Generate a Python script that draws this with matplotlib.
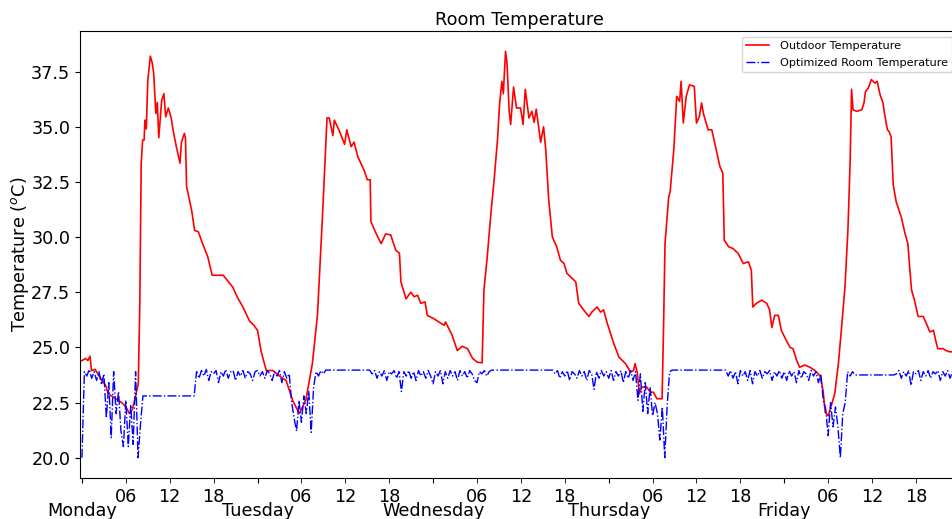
import matplotlib
matplotlib.use('Agg')
import matplotlib.pyplot as plt
import matplotlib.dates as mdates
import numpy as np
import pandas as pd

# week start (a Monday)
start = pd.Timestamp('2019-07-01 00:00')

# outdoor temperature, hours since Monday 00:00 and degC
outdoor_hours = [0.0, 0.5, 0.8, 1.1, 1.3, 1.8, 2.45, 3.2, 3.6, 4.3, 5.0, 5.6, 6.0, 6.5, 6.9, 7.2, 7.7, 7.9,
                 8.1, 8.3, 8.5, 8.6, 8.8, 9.0, 9.35, 9.6, 9.8, 10.1, 10.3, 10.5, 10.9, 11.2, 11.45, 11.8,
                 12.2, 12.45, 12.9, 13.4, 13.6, 14.0, 14.15, 14.3, 15.0, 15.4, 15.9, 16.5, 17.2, 17.8,
                 19.3, 20.6, 21.2, 22.0, 22.9, 23.5, 24.0, 24.5, 25.2, 26.1, 27.0, 27.9, 28.8, 29.7,
                 30.6, 31.5, 32.2, 32.9, 33.5, 33.8, 34.3, 34.5, 35.2, 35.9, 36.2, 36.8, 37.2, 37.7,
                 38.6, 39.0, 39.4, 39.5, 40.2, 40.9, 41.5, 42.2, 42.9, 43.4, 43.6, 44.3, 44.95, 45.4,
                 45.9, 46.3, 46.9, 47.2, 48.1, 48.8, 49.5, 49.7, 50.6, 51.3, 52.0, 52.7, 53.4, 54.05,
                 54.7, 54.95, 55.4, 55.9, 56.3, 56.8, 57.1, 57.4, 57.6, 57.9, 58.1, 58.4, 58.6, 59.0,
                 59.4, 59.95, 60.3, 60.6, 61.1, 61.5, 61.8, 62.1, 62.7, 63.1, 63.4, 63.8, 64.3, 64.9,
                 65.4, 65.9, 66.3, 67.5, 67.9, 68.8, 69.3, 69.7, 70.4, 70.9, 71.3, 71.8, 72.4, 72.7,
                 73.4, 74.3, 75.0, 75.4, 75.6, 75.9, 76.2, 76.5, 77.2, 77.7, 78.1, 78.6, 79.3, 79.5,
                 79.7, 80.2, 80.4, 80.9, 81.1, 81.3, 81.7, 81.9, 82.2, 82.6, 83.05, 83.7, 84.0, 84.4,
                 84.7, 84.95, 85.6, 86.1, 86.5, 87.2, 87.6, 87.8, 88.4, 89.0, 89.7, 90.4, 91.1, 91.5,
                 91.7, 92.2, 92.9, 93.6, 94.0, 94.3, 94.7, 95.2, 95.6, 96.3, 96.8, 97.2, 97.7, 98.1,
                 98.8, 99.5, 100.2, 100.9, 101.3, 101.6, 102.0, 102.5, 102.9, 103.4, 103.8, 104.3,
                 104.7, 105.0, 105.2, 105.4, 105.9, 106.6, 106.9, 107.1, 107.5, 107.9, 108.4, 108.7,
                 109.1, 109.5, 109.7, 110.1, 110.3, 110.6, 110.9, 111.3, 112.0, 112.5, 112.9, 113.1,
                 113.4, 113.8, 114.3, 115.0, 115.4, 115.9, 116.4, 116.8, 117.0, 117.7, 118.1, 118.6,
                 119.75]
outdoor_temp = [24.4, 24.5, 24.4, 24.6, 23.95, 24.0, 23.65, 23.3, 22.9, 22.74, 22.6, 22.45, 22.3, 22.0,
                22.2, 22.6, 23.35, 26.8, 33.35, 34.4, 34.4, 35.3, 34.9, 37.1, 38.2, 37.9, 37.45, 35.6,
                36.1, 34.5, 36.2, 36.5, 35.45, 35.85, 35.4, 34.86, 34.1, 33.35, 34.3, 34.7, 34.5, 32.3,
                31.2, 30.3, 30.24, 29.7, 29.1, 28.27, 28.27, 27.74, 27.3, 26.83, 26.2, 26.0, 25.77,
                24.8, 23.95, 23.95, 23.7, 23.5, 22.6, 22.0, 22.6, 24.27, 26.5, 31.1, 35.4, 35.4, 34.6,
                35.3, 34.8, 34.2, 34.86, 34.1, 34.3, 33.65, 33.0, 32.6, 32.6, 30.7, 30.17, 29.7, 30.14,
                30.1, 29.4, 29.27, 27.97, 27.2, 27.5, 27.3, 27.36, 27.0, 27.06, 26.45, 26.3, 26.15,
                26.0, 26.15, 25.55, 24.86, 25.05, 24.94, 24.5, 24.33, 24.3, 27.6, 29.1, 31.08, 32.44,
                34.4, 36.08, 37.06, 36.5, 38.42, 37.9, 35.7, 35.1, 36.8, 35.85, 35.85, 35.1, 36.7,
                35.4, 35.7, 35.2, 35.8, 34.3, 35.0, 33.95, 31.7, 30.0, 29.56, 28.95, 28.8, 28.35,
                27.97, 27.0, 26.6, 26.4, 26.6, 26.83, 26.6, 26.7, 26.1, 25.47, 25.17, 24.56, 24.26,
                23.88, 23.95, 24.26, 23.88, 22.9, 23.2, 23.2, 22.97, 22.97, 22.67, 22.67, 25.9, 29.7,
                31.8, 32.06, 33.95, 35.17, 36.38, 36.15, 37.06, 35.17, 36.38, 36.9, 36.83, 35.17,
                35.47, 36.08, 35.6, 34.86, 34.86, 34.26, 33.2, 32.9, 29.86, 29.56, 29.48, 29.26, 28.8,
                28.88, 28.5, 26.83, 27.0, 27.14, 27.0, 26.7, 25.9, 26.45, 26.45, 25.77, 25.3, 25.0,
                24.94, 24.4, 24.1, 24.2, 24.1, 23.95, 23.7, 23.05, 22.06, 21.9, 22.44, 22.9, 24.26,
                25.77, 27.74, 30.3, 33.35, 36.7, 35.77, 35.7, 35.77, 36.08, 36.6, 36.76, 37.14, 36.98,
                37.06, 36.45, 36.08, 35.6, 34.86, 34.8, 34.56, 32.36, 31.6, 30.9, 30.17, 29.7, 28.8,
                27.6, 27.14, 26.4, 26.4, 26.1, 25.7, 25.77, 25.17, 24.94, 24.94, 24.86, 24.8, 24.8]

# optimized room temperature, one value every 20 minutes, per day
room_mon = [20.0, 23.9, 23.7, 24.0, 23.6, 23.9, 23.5, 23.9, 23.3, 23.8, 21.8, 23.4, 20.9, 23.9, 22.0,
            23.0, 21.2, 20.5, 22.6, 20.5, 22.4, 20.6, 23.9, 20.0, 21.5, 22.8, 22.8, 22.8, 22.8, 22.8,
            22.8, 22.8, 22.8, 22.8, 22.8, 22.8, 22.8, 22.8, 22.8, 22.8, 22.8, 22.8, 22.8, 22.8, 22.8,
            22.8, 22.8, 23.9, 23.6, 23.95, 23.7, 24.0, 23.5, 23.9, 23.8, 23.95, 23.4, 23.9, 23.7,
            24.0, 23.6, 23.9, 23.95, 23.5, 23.9, 23.7, 23.95, 23.6, 23.9, 23.8, 23.5, 23.9]
room_tue = [23.95, 23.7, 23.9, 23.6, 23.95, 23.8, 23.5, 23.9, 23.7, 23.95, 23.4, 23.9, 23.6, 23.8,
            22.5, 21.8, 21.2, 22.6, 21.6, 22.8, 22.0, 23.0, 21.15, 23.2, 23.9, 23.7, 23.95, 23.8,
            23.97, 23.97, 23.97, 23.97, 23.97, 23.97, 23.97, 23.97, 23.97, 23.97, 23.97, 23.97,
            23.97, 23.97, 23.97, 23.97, 23.97, 23.97, 23.97, 23.8, 23.95, 23.6, 23.9, 23.7, 23.95,
            23.5, 23.9, 23.8, 23.95, 23.6, 23.9, 23.0, 23.9, 23.7, 23.95, 23.6, 23.9, 23.5, 23.95,
            23.7, 23.9, 23.6, 23.95, 23.7]
room_wed = [23.35, 23.9, 23.7, 23.95, 23.35, 23.9, 23.6, 23.95, 23.7, 23.9, 23.5, 23.95, 23.7, 23.9,
            23.6, 23.95, 23.8, 23.5, 23.4, 23.9, 23.8, 23.95, 23.7, 23.9, 23.97, 23.97, 23.97, 23.97,
            23.97, 23.97, 23.97, 23.97, 23.97, 23.97, 23.97, 23.97, 23.97, 23.97, 23.97, 23.97,
            23.97, 23.97, 23.97, 23.97, 23.97, 23.97, 23.97, 23.97, 23.97, 23.97, 23.8, 23.95, 23.6,
            23.9, 23.7, 23.95, 23.5, 23.9, 23.8, 23.6, 23.95, 23.7, 23.9, 23.5, 23.95, 23.8, 23.1,
            23.9, 23.6, 23.95, 23.7, 23.9]
room_thu = [23.6, 23.95, 23.5, 23.9, 23.7, 23.95, 23.4, 23.9, 23.6, 23.95, 23.5, 23.9, 22.6, 23.8,
            22.1, 23.4, 22.0, 23.2, 21.9, 22.5, 22.0, 20.8, 22.3, 20.0, 22.4, 23.9, 23.97, 23.97,
            23.97, 23.97, 23.97, 23.97, 23.97, 23.97, 23.97, 23.97, 23.97, 23.97, 23.97, 23.97,
            23.97, 23.97, 23.97, 23.97, 23.97, 23.97, 23.97, 23.97, 23.97, 23.7, 23.95, 23.6, 23.9,
            23.35, 23.95, 23.7, 23.9, 23.5, 23.95, 23.35, 23.9, 23.7, 23.95, 23.6, 23.9, 23.8,
            23.95, 23.5, 23.9, 23.7, 23.95, 23.6]
room_fri = [23.9, 23.5, 23.95, 23.7, 23.9, 23.4, 23.95, 23.6, 23.9, 23.8, 23.5, 23.95, 23.7, 23.9,
            23.4, 23.8, 22.6, 22.2, 21.0, 22.5, 21.4, 22.3, 21.4, 20.0, 22.0, 22.5, 23.9, 23.7, 23.9,
            23.75, 23.75, 23.75, 23.75, 23.75, 23.75, 23.75, 23.75, 23.75, 23.75, 23.75, 23.75,
            23.75, 23.75, 23.75, 23.75, 23.75, 23.8, 23.95, 23.6, 23.9, 23.7, 23.95, 23.27, 23.9,
            23.8, 23.95, 23.5, 23.9, 23.7, 23.95, 23.6, 23.9, 23.8, 23.95, 23.5, 23.9, 23.7, 23.95,
            23.6, 23.9, 23.8, 23.95]

room_temp = room_mon + room_tue + room_wed + room_thu + room_fri
room_time = pd.date_range(start, periods=len(room_temp), freq='20min')
outdoor_time = start + pd.to_timedelta(outdoor_hours, unit='h')

fig = plt.figure(figsize=(9.52, 5.19), dpi=100)
ax = fig.add_axes([80 / 952, 1 - 478 / 519, (958 - 80) / 952, (478 - 31) / 519])

ax.plot(outdoor_time, outdoor_temp, color='red', lw=1.2, label='Outdoor Temperature')
ax.plot(room_time, room_temp, color='blue', ls='-.', lw=1.0, label='Optimized Room Temperature')

ax.set_xlim(start - pd.Timedelta(minutes=16), start + pd.Timedelta(hours=119.75))

ax.xaxis.set_major_locator(mdates.DayLocator())
ax.xaxis.set_major_formatter(mdates.DateFormatter('%A'))
ax.xaxis.set_minor_locator(mdates.HourLocator(byhour=[6, 12, 18]))
ax.xaxis.set_minor_formatter(mdates.DateFormatter('%H'))
ax.tick_params(axis='x', which='major', pad=13.5, length=3.5, labelsize=12.7)
ax.tick_params(axis='x', which='minor', length=3.5, labelsize=12.7)
ax.tick_params(axis='y', labelsize=12.7)

ax.set_ylabel('Temperature ($^o$C)', fontsize=12.7, labelpad=0)
ax.set_title('Room Temperature', fontsize=12.7, pad=4.5)
ax.legend(loc='upper right', fontsize=8.1, handletextpad=1.0, labelspacing=0.6)

fig.savefig('out.png', dpi=100)
